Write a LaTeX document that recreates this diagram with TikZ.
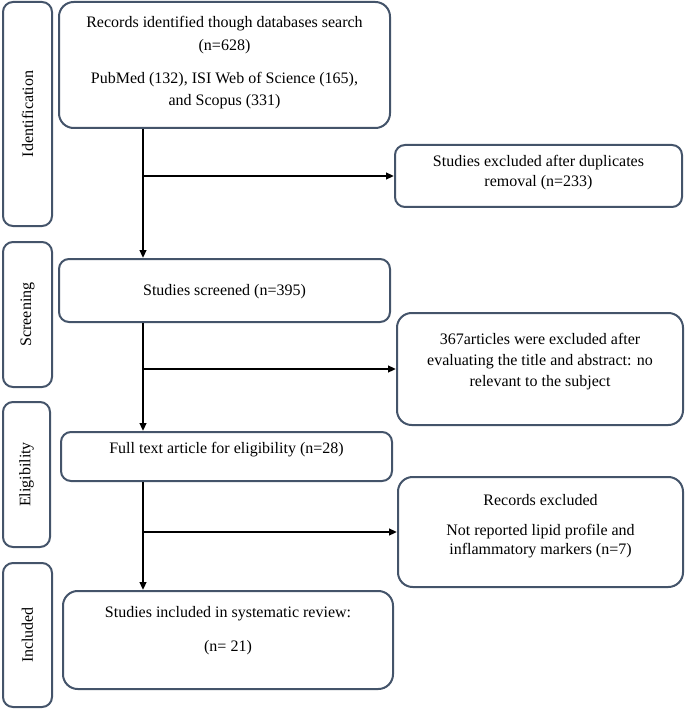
\documentclass[tikz,border=0pt]{standalone}
\usepackage{fontspec}
\setmainfont{Liberation Serif}
\usetikzlibrary{arrows.meta}
\definecolor{boxc}{RGB}{68,84,106}
\begin{document}
\begin{tikzpicture}[x=0.75pt,y=-0.75pt,
  box/.style={draw=boxc,line width=1.5pt,rounded corners=7.5pt,inner sep=0pt,fill=white},
  bigbox/.style={box,rounded corners=11pt},
  txt/.style={align=center,inner sep=0pt,font=\fontsize{12}{16}\selectfont},
  side/.style={txt,rotate=90},
  arr/.style={line width=1.5pt,-{Triangle[length=6pt,width=5pt]}},
  ln/.style={line width=1.5pt}]
\useasboundingbox (0,0) rectangle (685,709);
% side boxes
\node[box,minimum width=36.75pt,minimum height=168pt] (idside) at (27.5,114) {};
\node[side] (idlab) at (idside.center) {Identification};
\node[box,minimum width=36.75pt,minimum height=108.75pt] (scrside) at (27.5,314.5) {};
\node[side] (scrlab) at (scrside.center) {Screening};
\node[box,minimum width=35.25pt,minimum height=108.75pt] (eligside) at (26.5,474.5) {};
\node[side] (eliglab) at (eligside.center) {Eligibility};
\node[box,minimum width=36.75pt,minimum height=108pt] (inclside) at (27.5,635) {};
\node[side] (incllab) at (inclside.center) {Included};
% main boxes
\node[bigbox,minimum width=248.25pt,minimum height=94.5pt] (b1) at (224.5,65) {};
\node[txt] (b1t) at (224.5,62.5) {Records identified though databases search\\[1pt](n=628)\\[9pt]PubMed (132), ISI Web of Science (165),\\[0pt]and Scopus (331)};
\node[box,minimum width=215.25pt,minimum height=46.5pt] (dup) at (538.5,176) {};
\node[txt] (dupt) at (538.5,173) {Studies excluded after duplicates\\[-1pt]removal (n=233)};
\node[box,minimum width=248.25pt,minimum height=47.25pt] (scr) at (224.5,290.5) {};
\node[txt] (scrt) at (224.5,292) {Studies screened (n=395)};
\node[bigbox,minimum width=214.5pt,minimum height=84pt] (ex2) at (540,369) {};
\node[txt] (ex2t) at (540,361.5) {367articles were excluded after\\evaluating the title and abstract: no\\relevant to the subject};
\node[box,minimum width=248.25pt,minimum height=36.75pt] (full) at (226.5,456.5) {};
\node[txt] (fullt) at (226.5,450) {Full text article for eligibility (n=28)};
\node[bigbox,minimum width=213.75pt,minimum height=82.5pt] (ex3) at (540.5,532) {};
\node[txt] (ex3t) at (540.5,526) {Records excluded\\[7pt]Not reported lipid profile and\\[-2pt]inflammatory markers (n=7)};
\node[bigbox,minimum width=247.5pt,minimum height=73.5pt] (incl) at (228,640) {};
\node[txt] (inclt) at (228,630.5) {Studies included in systematic review:\\[10pt](n= 21)};
% connectors
\coordinate (spine) at (143,0);
\draw[arr] (b1.south -| spine) -- (scr.north -| spine);
\draw[arr] (spine |- dup.west) -- (dup.west);
\draw[arr] (scr.south -| spine) -- (full.north -| spine);
\draw[arr] (spine |- ex2.west) -- (ex2.west);
\draw[arr] (full.south -| spine) -- (incl.north -| spine);
\draw[arr] (spine |- ex3.west) -- (ex3.west);
\end{tikzpicture}
\end{document}
